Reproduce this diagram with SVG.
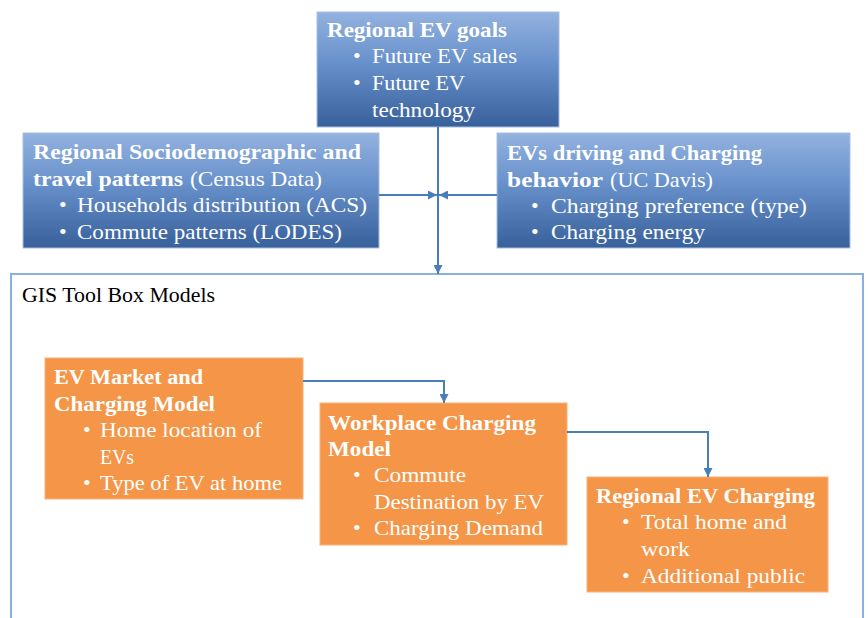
<svg xmlns="http://www.w3.org/2000/svg" width="868" height="618" viewBox="0 0 868 618">
<defs>
<linearGradient id="blueGrad" x1="0" y1="0" x2="0" y2="1">
<stop offset="0" stop-color="#93b2df"/>
<stop offset="0.45" stop-color="#6790cb"/>
<stop offset="1" stop-color="#38609b"/>
</linearGradient>
<marker id="arrow" viewBox="0 0 10 10" refX="10" refY="5" markerWidth="9" markerHeight="9" markerUnits="userSpaceOnUse" orient="auto">
<path d="M0,0 L10,5 L0,10 z" fill="#4a7ebb"/>
</marker>
<style>
.blue{fill:url(#blueGrad);stroke:#a7bfe4;stroke-width:1}
.orange{fill:#f49547;stroke:#f8b27a;stroke-width:1}
.t{font-family:"Liberation Serif","Times New Roman",serif;font-size:22px;fill:#ffffff}
.b{font-weight:bold}
.k{fill:#000000}
.conn{fill:none;stroke:#4a7ebb;stroke-width:2;marker-end:url(#arrow)}
.frame{fill:none;stroke:#8cb0de;stroke-width:2}
</style>
</defs>

<g id="container">
<rect class="frame" x="11" y="274" width="852" height="380"/>
<text class="t k" x="22" y="302" textLength="193" lengthAdjust="spacingAndGlyphs">GIS Tool Box Models</text>
</g>

<g id="regional-ev-goals">
<rect class="blue" x="317" y="12" width="242" height="115"/>
<text class="t b" x="327" y="37" textLength="180" lengthAdjust="spacingAndGlyphs">Regional EV goals</text>
<text class="t" x="353" y="63">•</text>
<text class="t" x="372" y="63" textLength="145" lengthAdjust="spacingAndGlyphs">Future EV sales</text>
<text class="t" x="353" y="90">•</text>
<text class="t" x="372" y="90" textLength="93" lengthAdjust="spacingAndGlyphs">Future EV</text>
<text class="t" x="372" y="117" textLength="103" lengthAdjust="spacingAndGlyphs">technology</text>
</g>

<g id="sociodemographic">
<rect class="blue" x="23" y="133" width="356" height="115"/>
<text class="t b" x="33" y="159" textLength="328" lengthAdjust="spacingAndGlyphs">Regional Sociodemographic and</text>
<text class="t"><tspan class="b" x="33" y="186" textLength="150" lengthAdjust="spacingAndGlyphs">travel patterns</tspan><tspan x="190" y="186" textLength="132" lengthAdjust="spacingAndGlyphs">(Census Data)</tspan></text>
<text class="t" x="59" y="212">•</text>
<text class="t" x="77" y="212" textLength="290" lengthAdjust="spacingAndGlyphs">Households distribution (ACS)</text>
<text class="t" x="59" y="239">•</text>
<text class="t" x="77" y="239" textLength="265" lengthAdjust="spacingAndGlyphs">Commute patterns (LODES)</text>
</g>

<g id="charging-behavior">
<rect class="blue" x="497" y="133" width="353" height="115"/>
<text class="t b" x="507" y="160" textLength="255" lengthAdjust="spacingAndGlyphs">EVs driving and Charging</text>
<text class="t"><tspan class="b" x="507" y="187" textLength="96" lengthAdjust="spacingAndGlyphs">behavior</tspan><tspan x="610" y="187" textLength="103" lengthAdjust="spacingAndGlyphs">(UC Davis)</tspan></text>
<text class="t" x="531" y="213">•</text>
<text class="t" x="551" y="213" textLength="256" lengthAdjust="spacingAndGlyphs">Charging preference (type)</text>
<text class="t" x="531" y="239">•</text>
<text class="t" x="551" y="239" textLength="154" lengthAdjust="spacingAndGlyphs">Charging energy</text>
</g>

<g id="ev-market">
<rect class="orange" x="45" y="358" width="258" height="141"/>
<text class="t b" x="54" y="384" textLength="149" lengthAdjust="spacingAndGlyphs">EV Market and</text>
<text class="t b" x="54" y="411" textLength="161" lengthAdjust="spacingAndGlyphs">Charging Model</text>
<text class="t" x="83" y="437">•</text>
<text class="t" x="100" y="437" textLength="162" lengthAdjust="spacingAndGlyphs">Home location of</text>
<text class="t" x="100" y="464" textLength="34" lengthAdjust="spacingAndGlyphs">EVs</text>
<text class="t" x="83" y="490">•</text>
<text class="t" x="100" y="490" textLength="182" lengthAdjust="spacingAndGlyphs">Type of EV at home</text>
</g>

<g id="workplace-charging">
<rect class="orange" x="320" y="403" width="247" height="142"/>
<text class="t b" x="328" y="430" textLength="208" lengthAdjust="spacingAndGlyphs">Workplace Charging</text>
<text class="t b" x="328" y="456" textLength="63" lengthAdjust="spacingAndGlyphs">Model</text>
<text class="t" x="353" y="482">•</text>
<text class="t" x="374" y="482" textLength="92" lengthAdjust="spacingAndGlyphs">Commute</text>
<text class="t" x="374" y="509" textLength="170" lengthAdjust="spacingAndGlyphs">Destination by EV</text>
<text class="t" x="353" y="535">•</text>
<text class="t" x="374" y="535" textLength="169" lengthAdjust="spacingAndGlyphs">Charging Demand</text>
</g>

<g id="regional-ev-charging">
<rect class="orange" x="587" y="477" width="241" height="115"/>
<text class="t b" x="596" y="503" textLength="219" lengthAdjust="spacingAndGlyphs">Regional EV Charging</text>
<text class="t" x="622" y="529">•</text>
<text class="t" x="641" y="529" textLength="146" lengthAdjust="spacingAndGlyphs">Total home and</text>
<text class="t" x="641" y="556" textLength="49" lengthAdjust="spacingAndGlyphs">work</text>
<text class="t" x="622" y="583">•</text>
<text class="t" x="641" y="583" textLength="164" lengthAdjust="spacingAndGlyphs">Additional public</text>
</g>

<g id="connectors">
<path class="conn" d="M438,127 V274"/>
<path class="conn" d="M379,195 H437"/>
<path class="conn" d="M497,195 H439"/>
<path class="conn" d="M303,381 H444 V403"/>
<path class="conn" d="M567,432 H708 V477"/>
</g>
</svg>
